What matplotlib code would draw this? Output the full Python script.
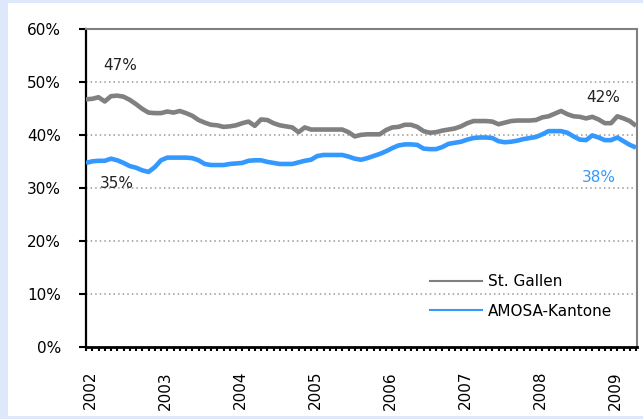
import matplotlib
matplotlib.use("Agg")
import matplotlib.pyplot as plt
import matplotlib.transforms as mtransforms
from matplotlib.patches import Rectangle
from matplotlib.lines import Line2D
from matplotlib.ticker import MultipleLocator, FuncFormatter

# ---- data (monthly, Jan 2002 .. May 2009) ----
years = [2002, 2003, 2004, 2005, 2006, 2007, 2008, 2009]
series_names = ["St. Gallen", "AMOSA-Kantone"]
st_gallen = [
    46.8, 46.9, 47.2, 46.4, 47.4, 47.5, 47.3, 46.7, 45.9, 45.0, 44.3, 44.2,
    44.2, 44.5, 44.3, 44.6, 44.2, 43.7, 42.9, 42.4, 42.0, 41.9, 41.6, 41.7,
    41.9, 42.3, 42.6, 41.8, 43.0, 42.9, 42.3, 41.9, 41.7, 41.5, 40.6, 41.5,
    41.1, 41.1, 41.1, 41.1, 41.1, 41.1, 40.6, 39.8, 40.1, 40.2, 40.2, 40.2,
    41.0, 41.5, 41.6, 42.0, 42.0, 41.6, 40.8, 40.5, 40.6, 40.9, 41.1, 41.3,
    41.7, 42.3, 42.7, 42.7, 42.7, 42.6, 42.1, 42.4, 42.7, 42.8, 42.8, 42.8,
    42.9, 43.4, 43.6, 44.1, 44.6, 44.0, 43.6, 43.5, 43.2, 43.5, 43.0, 42.3,
    42.3, 43.6, 43.2, 42.7, 41.8,
]
amosa = [
    34.8, 35.1, 35.2, 35.2, 35.6, 35.3, 34.8, 34.2, 33.9, 33.4, 33.1, 34.0,
    35.3, 35.8, 35.8, 35.8, 35.8, 35.7, 35.3, 34.6, 34.4, 34.4, 34.4, 34.6,
    34.7, 34.8, 35.2, 35.3, 35.3, 35.0, 34.8, 34.6, 34.6, 34.6, 34.9, 35.2,
    35.4, 36.1, 36.3, 36.3, 36.3, 36.3, 36.0, 35.6, 35.4, 35.7, 36.1, 36.5,
    37.0, 37.6, 38.1, 38.3, 38.3, 38.2, 37.5, 37.4, 37.4, 37.8, 38.4, 38.6,
    38.8, 39.2, 39.5, 39.6, 39.6, 39.5, 38.9, 38.7, 38.8, 39.0, 39.3, 39.5,
    39.7, 40.2, 40.8, 40.8, 40.8, 40.5, 39.8, 39.2, 39.1, 40.0, 39.6, 39.1,
    39.1, 39.6, 38.9, 38.2, 37.7,
]
yticks = [0, 10, 20, 30, 40, 50, 60]
annot_text = ["47%", "35%", "42%", "38%"]

GRAY = "#808080"
BLUE = "#3399ff"
FS = 11

fig = plt.figure(figsize=(6.43, 4.19), dpi=100)
fig.patch.set_facecolor("#dde8fb")
fig.patches.append(Rectangle((8 / 643, 1 - 416 / 419), 1 - 8 / 643, 413 / 419,
                             transform=fig.transFigure, facecolor="white",
                             edgecolor="none", zorder=-10))

ax = fig.add_axes([86 / 643, 1 - 347.3 / 419, (637 - 86) / 643, (347.3 - 29.4) / 419])
ax.set_zorder(5)
ax.set_facecolor("white")

x = list(range(len(st_gallen)))
ax.plot(x, st_gallen, color=GRAY, lw=3.3, solid_capstyle="butt", zorder=3)
ax.plot(x, amosa, color=BLUE, lw=3.3, solid_capstyle="butt", zorder=3)

ax.set_xlim(0, len(x) - 1 + 0.15)
ax.set_ylim(0, 60)

# grid
for v in yticks[1:-1]:
    ax.axhline(v, color="#999999", lw=1.1, ls=(0, (1, 2)), zorder=1)

# spines
ax.spines["left"].set_color("black")
ax.spines["left"].set_linewidth(1.6)
ax.spines["bottom"].set_color("black")
ax.spines["bottom"].set_linewidth(2.0)
ax.spines["top"].set_color(GRAY)
ax.spines["top"].set_linewidth(1.5)
ax.spines["right"].set_color(GRAY)
ax.spines["right"].set_linewidth(1.5)

ax.set_yticks(yticks)
ax.yaxis.set_major_formatter(FuncFormatter(lambda v, p: f"{int(v)}%"))
ax.tick_params(axis="y", direction="out", length=5, width=1.5, pad=13,
               labelsize=FS, colors="black")

year_pos = [12 * i for i in range(len(years))]
ax.set_xticks(year_pos)
ax.set_xticklabels([str(y) for y in years], rotation=90, fontsize=FS,
                   va="top", ha="center")
ax.xaxis.set_minor_locator(MultipleLocator(1))
ax.tick_params(axis="x", which="both", direction="out", length=3, width=1.5,
               pad=14, colors="black")
offset = mtransforms.ScaledTranslation(4 / 100, 0, fig.dpi_scale_trans)
for lbl in ax.get_xticklabels():
    lbl.set_transform(lbl.get_transform() + offset)

# annotations
ax.text(5.4, 53.1, annot_text[0], fontsize=FS, ha="center", va="center", color="#222222")
ax.text(5.0, 31.0, annot_text[1], fontsize=FS, ha="center", va="center", color="#222222")
ax.text(82.7, 47.2, annot_text[2], fontsize=FS, ha="center", va="center", color="#222222")
ax.text(82.0, 32.1, annot_text[3], fontsize=FS, ha="center", va="center", color=BLUE)

handles = [Line2D([], [], color=GRAY, lw=1.5), Line2D([], [], color=BLUE, lw=1.5)]
ax.legend(handles, series_names, loc="upper left", frameon=False, fontsize=FS,
          bbox_to_anchor=(430 / 643, 1 - 274 / 419), bbox_transform=fig.transFigure,
          borderpad=0, borderaxespad=0, handlelength=3.4, handletextpad=0.4,
          labelspacing=0.95)

fig.savefig("out.png", dpi=100, facecolor=fig.get_facecolor())
